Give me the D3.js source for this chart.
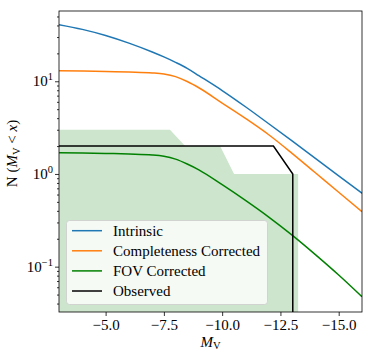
<!DOCTYPE html>
<html><head><meta charset="utf-8">
<script src="https://cdn.jsdelivr.net/npm/d3@7"></script>
<style>body{margin:0;background:#fff}svg{display:block}</style>
</head><body><svg id="c" width="373" height="356"></svg>
<script>
const magnitudes = [-3,-4,-5,-6,-7,-7.5,-8,-8.5,-9,-10,-11,-12,-13,-14,-15,-16];
const intrinsic = [40.8,36.3,31.2,25.8,20.7,18.3,16.0,13.8,11.5,7.94,5.31,3.48,2.27,1.47,0.953,0.619];
const completeness = [13.0,12.88,12.74,12.56,12.30,11.97,11.22,9.95,8.51,5.82,3.98,2.65,1.67,1.03,0.635,0.392];
const fovCorrected = [1.698,1.687,1.667,1.641,1.603,1.552,1.445,1.282,1.109,0.767,0.519,0.343,0.219,0.135,0.0813,0.0474];
const observedMag = [-3,-12.2,-13.03,-13.03];
const observedN = [2,2,1,0.001];
const bandMag = [-3,-7.76,-8.41,-9.91,-10.51,-13.26,-13.26];
const bandUpper = [3,3,2,2,1,1,0.001];
const xTicks = [-5,-7.5,-10,-12.5,-15];
const yTicks = [0.1,1,10];
const yTickExp = ["−1","0","1"];
const seriesNames = ["Intrinsic","Completeness Corrected","FOV Corrected","Observed"];
const seriesColors = ["#1f77b4","#ff7f0e","#008000","#000000"];

const FONT = "'Liberation Serif','Times New Roman','DejaVu Serif',serif";
const L=59,R=362,T=11,B=312;
const svg=d3.select("#c");
const x=d3.scaleLinear().domain([-3,-16]).range([L,R]);
const y=d3.scaleLog().domain([Math.pow(10,-1.489),Math.pow(10,1.758)]).range([B,T]);

svg.append("clipPath").attr("id","clip").append("rect").attr("x",L).attr("y",T).attr("width",R-L).attr("height",B-T);
const g=svg.append("g").attr("clip-path","url(#clip)");

const band=bandMag.map((m,i)=>({m,u:bandUpper[i]}));
g.append("path").datum(band).attr("fill","#cce5cc")
 .attr("d",d3.area().x(d=>x(d.m)).y0(B+5).y1(d=>y(d.u)));

const line=d3.line().x(d=>x(d[0])).y(d=>y(d[1])).curve(d3.curveMonotoneX);
[intrinsic,completeness,fovCorrected].forEach((s,i)=>{
  g.append("path").datum(magnitudes.map((m,j)=>[m,s[j]])).attr("fill","none")
   .attr("stroke",seriesColors[i]).attr("stroke-width",1.5).attr("d",line);
});
g.append("path").datum(observedMag.map((m,j)=>[m,observedN[j]])).attr("fill","none")
 .attr("stroke","#000").attr("stroke-width",1.5).attr("d",d3.line().x(d=>x(d[0])).y(d=>y(d[1])));

// axes
const xa=svg.append("g").attr("transform",`translate(0,${B})`)
 .call(d3.axisBottom(x).tickValues(xTicks).tickSize(4).tickPadding(3).tickFormat(d=>d3.format(".1f")(d).replace("-","−")));
xa.select(".domain").remove();
xa.selectAll("text").style("font-family",FONT).style("font-size","15px").attr("fill","#000");
const minor=[];
for(let e=-2;e<=1;e++)for(let k=2;k<=9;k++){const v=k*Math.pow(10,e);if(v>=y.domain()[0]&&v<=y.domain()[1])minor.push(v);}
const ya2=svg.append("g").attr("transform",`translate(${L},0)`).call(d3.axisLeft(y).tickValues(minor).tickSize(2).tickFormat(""));
ya2.select(".domain").remove();
const ya=svg.append("g").attr("transform",`translate(${L},0)`).call(d3.axisLeft(y).tickValues(yTicks).tickSize(4).tickFormat(""));
ya.select(".domain").remove();
svg.selectAll(".tick line").attr("stroke","#000").attr("stroke-width",0.8);
yTicks.forEach((v,i)=>{
  const t=svg.append("text").attr("x",L-6).attr("y",y(v)+5).attr("text-anchor","end").style("font-family",FONT).style("font-size","15px");
  t.append("tspan").text("10");
  t.append("tspan").attr("dy",-6).style("font-size","10.5px").text(yTickExp[i]);
});
svg.append("rect").attr("x",L).attr("y",T).attr("width",R-L).attr("height",B-T).attr("fill","none").attr("stroke","#000").attr("stroke-width",0.8);

// axis labels
const xl=svg.append("text").attr("x",(L+R)/2).attr("y",347).attr("text-anchor","middle").style("font-family",FONT).style("font-size","15px");
xl.append("tspan").style("font-style","italic").text("M");
xl.append("tspan").attr("dy",2).style("font-size","10.5px").text("V");
const yl=svg.append("text").attr("transform",`translate(17,${(T+B)/2-8}) rotate(-90)`).attr("text-anchor","middle").style("font-family",FONT).style("font-size","15px");
yl.append("tspan").text("N (");
yl.append("tspan").style("font-style","italic").text("M");
yl.append("tspan").attr("dy",3).style("font-size","10.5px").text("V");
yl.append("tspan").attr("dy",-3).text(" < ");
yl.append("tspan").style("font-style","italic").text("x");
yl.append("tspan").text(")");

// legend
const lg=svg.append("g");
lg.append("rect").attr("x",66.5).attr("y",220.5).attr("width",201).attr("height",84).attr("rx",3)
 .attr("fill","#fff").attr("fill-opacity",0.8).attr("stroke","#ccc").attr("stroke-opacity",0.8);
seriesNames.forEach((n,i)=>{
  const yy=230.7+i*20.1;
  lg.append("line").attr("x1",72).attr("x2",102).attr("y1",yy).attr("y2",yy).attr("stroke",seriesColors[i]).attr("stroke-width",1.5);
  lg.append("text").attr("x",113).attr("y",yy+5).style("font-family",FONT).style("font-size","15px").text(n);
});
</script></body></html>
